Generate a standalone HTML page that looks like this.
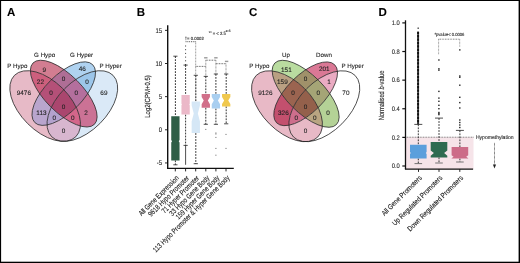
<!DOCTYPE html>
<html><head><meta charset="utf-8"><style>
html,body{margin:0;padding:0;background:#fff;}
body{width:520px;height:263px;overflow:hidden;font-family:"Liberation Sans", sans-serif;}
svg{display:block;text-rendering:geometricPrecision;}
text{stroke:#222;stroke-width:0.1px;}
text.nb{stroke:none;}
</style></head><body>
<svg width="520" height="263" viewBox="0 0 520 263" font-family='"Liberation Sans", sans-serif'><rect width="520" height="263" fill="#fff"/><g opacity="0.999"><defs><mask id="ain0" maskUnits="userSpaceOnUse" x="0" y="0" width="520" height="263"><rect width="520" height="263" fill="black"/><ellipse cx="45.15" cy="106.02" rx="43.40" ry="24.80" transform="rotate(45 45.15 106.02)" fill="white"/></mask><mask id="aout0" maskUnits="userSpaceOnUse" x="0" y="0" width="520" height="263"><rect width="520" height="263" fill="white"/><ellipse cx="45.15" cy="106.02" rx="43.40" ry="24.80" transform="rotate(45 45.15 106.02)" fill="black"/></mask><mask id="ain1" maskUnits="userSpaceOnUse" x="0" y="0" width="520" height="263"><rect width="520" height="263" fill="black"/><ellipse cx="63.75" cy="93.62" rx="43.40" ry="18.60" transform="rotate(45 63.75 93.62)" fill="white"/></mask><mask id="aout1" maskUnits="userSpaceOnUse" x="0" y="0" width="520" height="263"><rect width="520" height="263" fill="white"/><ellipse cx="63.75" cy="93.62" rx="43.40" ry="18.60" transform="rotate(45 63.75 93.62)" fill="black"/></mask><mask id="ain2" maskUnits="userSpaceOnUse" x="0" y="0" width="520" height="263"><rect width="520" height="263" fill="black"/><ellipse cx="63.75" cy="93.62" rx="40.92" ry="18.60" transform="rotate(-45 63.75 93.62)" fill="white"/></mask><mask id="aout2" maskUnits="userSpaceOnUse" x="0" y="0" width="520" height="263"><rect width="520" height="263" fill="white"/><ellipse cx="63.75" cy="93.62" rx="40.92" ry="18.60" transform="rotate(-45 63.75 93.62)" fill="black"/></mask><mask id="ain3" maskUnits="userSpaceOnUse" x="0" y="0" width="520" height="263"><rect width="520" height="263" fill="black"/><ellipse cx="82.35" cy="106.02" rx="43.40" ry="24.80" transform="rotate(-45 82.35 106.02)" fill="white"/></mask><mask id="aout3" maskUnits="userSpaceOnUse" x="0" y="0" width="520" height="263"><rect width="520" height="263" fill="white"/><ellipse cx="82.35" cy="106.02" rx="43.40" ry="24.80" transform="rotate(-45 82.35 106.02)" fill="black"/></mask></defs><g mask="url(#ain0)"><g mask="url(#aout1)"><g mask="url(#aout2)"><g mask="url(#aout3)"><rect x="0" y="0" width="520" height="263" fill="#e7bac7"/></g></g></g></g><g mask="url(#aout0)"><g mask="url(#ain1)"><g mask="url(#aout2)"><g mask="url(#aout3)"><rect x="0" y="0" width="520" height="263" fill="#d27d91"/></g></g></g></g><g mask="url(#aout0)"><g mask="url(#aout1)"><g mask="url(#ain2)"><g mask="url(#aout3)"><rect x="0" y="0" width="520" height="263" fill="#afd2f0"/></g></g></g></g><g mask="url(#aout0)"><g mask="url(#aout1)"><g mask="url(#aout2)"><g mask="url(#ain3)"><rect x="0" y="0" width="520" height="263" fill="#dae9f7"/></g></g></g></g><g mask="url(#ain0)"><g mask="url(#ain1)"><g mask="url(#aout2)"><g mask="url(#aout3)"><rect x="0" y="0" width="520" height="263" fill="#cd5f7d"/></g></g></g></g><g mask="url(#aout0)"><g mask="url(#ain1)"><g mask="url(#ain2)"><g mask="url(#aout3)"><rect x="0" y="0" width="520" height="263" fill="#af6e96"/></g></g></g></g><g mask="url(#aout0)"><g mask="url(#aout1)"><g mask="url(#ain2)"><g mask="url(#ain3)"><rect x="0" y="0" width="520" height="263" fill="#9cc6ea"/></g></g></g></g><g mask="url(#ain0)"><g mask="url(#aout1)"><g mask="url(#ain2)"><g mask="url(#aout3)"><rect x="0" y="0" width="520" height="263" fill="#b9a5cd"/></g></g></g></g><g mask="url(#aout0)"><g mask="url(#ain1)"><g mask="url(#aout2)"><g mask="url(#ain3)"><rect x="0" y="0" width="520" height="263" fill="#cb7295"/></g></g></g></g><g mask="url(#ain0)"><g mask="url(#ain1)"><g mask="url(#ain2)"><g mask="url(#aout3)"><rect x="0" y="0" width="520" height="263" fill="#b45078"/></g></g></g></g><g mask="url(#aout0)"><g mask="url(#ain1)"><g mask="url(#ain2)"><g mask="url(#ain3)"><rect x="0" y="0" width="520" height="263" fill="#b46f9d"/></g></g></g></g><g mask="url(#ain0)"><g mask="url(#ain1)"><g mask="url(#ain2)"><g mask="url(#ain3)"><rect x="0" y="0" width="520" height="263" fill="#aa466e"/></g></g></g></g><g mask="url(#ain0)"><g mask="url(#aout1)"><g mask="url(#ain2)"><g mask="url(#ain3)"><rect x="0" y="0" width="520" height="263" fill="#b3a2cd"/></g></g></g></g><g mask="url(#ain0)"><g mask="url(#ain1)"><g mask="url(#aout2)"><g mask="url(#ain3)"><rect x="0" y="0" width="520" height="263" fill="#d3668a"/></g></g></g></g><g mask="url(#ain0)"><g mask="url(#aout1)"><g mask="url(#aout2)"><g mask="url(#ain3)"><rect x="0" y="0" width="520" height="263" fill="#d8b6cf"/></g></g></g></g><ellipse cx="45.15" cy="106.02" rx="43.40" ry="24.80" transform="rotate(45 45.15 106.02)" fill="none" stroke="#222" stroke-width="0.75"/><ellipse cx="63.75" cy="93.62" rx="43.40" ry="18.60" transform="rotate(45 63.75 93.62)" fill="none" stroke="#222" stroke-width="0.75"/><ellipse cx="63.75" cy="93.62" rx="40.92" ry="18.60" transform="rotate(-45 63.75 93.62)" fill="none" stroke="#222" stroke-width="0.75"/><ellipse cx="82.35" cy="106.02" rx="43.40" ry="24.80" transform="rotate(-45 82.35 106.02)" fill="none" stroke="#222" stroke-width="0.75"/><text x="7.2" y="68" font-size="6.2" text-anchor="start" fill="#222">P Hypo</text><text x="34.1" y="57" font-size="6.2" text-anchor="start" fill="#222">G Hypo</text><text x="70.1" y="57" font-size="6.2" text-anchor="start" fill="#222">G Hyper</text><text x="99.5" y="68" font-size="6.2" text-anchor="start" fill="#222">P Hyper</text><text x="23.85" y="94.67" font-size="6.4" text-anchor="middle" fill="#222">9476</text><text x="44.40" y="71.67" font-size="6.4" text-anchor="middle" fill="#222">9</text><text x="82.30" y="71.47" font-size="6.4" text-anchor="middle" fill="#222">46</text><text x="103.90" y="94.67" font-size="6.4" text-anchor="middle" fill="#222">69</text><text x="40.40" y="83.97" font-size="6.4" text-anchor="middle" fill="#222">22</text><text x="63.60" y="81.17" font-size="6.4" text-anchor="middle" fill="#222">0</text><text x="87.10" y="83.77" font-size="6.4" text-anchor="middle" fill="#222">0</text><text x="51.10" y="94.87" font-size="6.4" text-anchor="middle" fill="#222">0</text><text x="76.20" y="94.87" font-size="6.4" text-anchor="middle" fill="#222">0</text><text x="63.60" y="108.57" font-size="6.4" text-anchor="middle" fill="#222">0</text><text x="41.40" y="114.87" font-size="6.4" text-anchor="middle" fill="#222">113</text><text x="86.10" y="114.77" font-size="6.4" text-anchor="middle" fill="#222">2</text><text x="54.40" y="119.67" font-size="6.4" text-anchor="middle" fill="#222">0</text><text x="72.80" y="119.67" font-size="6.4" text-anchor="middle" fill="#222">0</text><text x="63.60" y="132.77" font-size="6.4" text-anchor="middle" fill="#222">0</text><defs><mask id="cin0" maskUnits="userSpaceOnUse" x="0" y="0" width="520" height="263"><rect width="520" height="263" fill="black"/><ellipse cx="286.99" cy="106.23" rx="43.54" ry="24.88" transform="rotate(45 286.99 106.23)" fill="white"/></mask><mask id="cout0" maskUnits="userSpaceOnUse" x="0" y="0" width="520" height="263"><rect width="520" height="263" fill="white"/><ellipse cx="286.99" cy="106.23" rx="43.54" ry="24.88" transform="rotate(45 286.99 106.23)" fill="black"/></mask><mask id="cin1" maskUnits="userSpaceOnUse" x="0" y="0" width="520" height="263"><rect width="520" height="263" fill="black"/><ellipse cx="305.65" cy="93.79" rx="43.54" ry="18.66" transform="rotate(45 305.65 93.79)" fill="white"/></mask><mask id="cout1" maskUnits="userSpaceOnUse" x="0" y="0" width="520" height="263"><rect width="520" height="263" fill="white"/><ellipse cx="305.65" cy="93.79" rx="43.54" ry="18.66" transform="rotate(45 305.65 93.79)" fill="black"/></mask><mask id="cin2" maskUnits="userSpaceOnUse" x="0" y="0" width="520" height="263"><rect width="520" height="263" fill="black"/><ellipse cx="305.65" cy="93.79" rx="41.05" ry="18.66" transform="rotate(-45 305.65 93.79)" fill="white"/></mask><mask id="cout2" maskUnits="userSpaceOnUse" x="0" y="0" width="520" height="263"><rect width="520" height="263" fill="white"/><ellipse cx="305.65" cy="93.79" rx="41.05" ry="18.66" transform="rotate(-45 305.65 93.79)" fill="black"/></mask><mask id="cin3" maskUnits="userSpaceOnUse" x="0" y="0" width="520" height="263"><rect width="520" height="263" fill="black"/><ellipse cx="324.31" cy="106.23" rx="43.54" ry="24.88" transform="rotate(-45 324.31 106.23)" fill="white"/></mask><mask id="cout3" maskUnits="userSpaceOnUse" x="0" y="0" width="520" height="263"><rect width="520" height="263" fill="white"/><ellipse cx="324.31" cy="106.23" rx="43.54" ry="24.88" transform="rotate(-45 324.31 106.23)" fill="black"/></mask></defs><g mask="url(#cin0)"><g mask="url(#cout1)"><g mask="url(#cout2)"><g mask="url(#cout3)"><rect x="0" y="0" width="520" height="263" fill="#e8b9c6"/></g></g></g></g><g mask="url(#cout0)"><g mask="url(#cin1)"><g mask="url(#cout2)"><g mask="url(#cout3)"><rect x="0" y="0" width="520" height="263" fill="#b9dca0"/></g></g></g></g><g mask="url(#cout0)"><g mask="url(#cout1)"><g mask="url(#cin2)"><g mask="url(#cout3)"><rect x="0" y="0" width="520" height="263" fill="#da7895"/></g></g></g></g><g mask="url(#cout0)"><g mask="url(#cout1)"><g mask="url(#cout2)"><g mask="url(#cin3)"><rect x="0" y="0" width="520" height="263" fill="#ffffff"/></g></g></g></g><g mask="url(#cin0)"><g mask="url(#cin1)"><g mask="url(#cout2)"><g mask="url(#cout3)"><rect x="0" y="0" width="520" height="263" fill="#b9a082"/></g></g></g></g><g mask="url(#cout0)"><g mask="url(#cin1)"><g mask="url(#cin2)"><g mask="url(#cout3)"><rect x="0" y="0" width="520" height="263" fill="#a0916a"/></g></g></g></g><g mask="url(#cout0)"><g mask="url(#cout1)"><g mask="url(#cin2)"><g mask="url(#cin3)"><rect x="0" y="0" width="520" height="263" fill="#eaabc2"/></g></g></g></g><g mask="url(#cin0)"><g mask="url(#cout1)"><g mask="url(#cin2)"><g mask="url(#cout3)"><rect x="0" y="0" width="520" height="263" fill="#c3506e"/></g></g></g></g><g mask="url(#cout0)"><g mask="url(#cin1)"><g mask="url(#cout2)"><g mask="url(#cin3)"><rect x="0" y="0" width="520" height="263" fill="#b4d296"/></g></g></g></g><g mask="url(#cin0)"><g mask="url(#cin1)"><g mask="url(#cin2)"><g mask="url(#cout3)"><rect x="0" y="0" width="520" height="263" fill="#9b6450"/></g></g></g></g><g mask="url(#cout0)"><g mask="url(#cin1)"><g mask="url(#cin2)"><g mask="url(#cin3)"><rect x="0" y="0" width="520" height="263" fill="#a5a576"/></g></g></g></g><g mask="url(#cin0)"><g mask="url(#cin1)"><g mask="url(#cin2)"><g mask="url(#cin3)"><rect x="0" y="0" width="520" height="263" fill="#94604b"/></g></g></g></g><g mask="url(#cin0)"><g mask="url(#cout1)"><g mask="url(#cin2)"><g mask="url(#cin3)"><rect x="0" y="0" width="520" height="263" fill="#cd6e8c"/></g></g></g></g><g mask="url(#cin0)"><g mask="url(#cin1)"><g mask="url(#cout2)"><g mask="url(#cin3)"><rect x="0" y="0" width="520" height="263" fill="#b9a582"/></g></g></g></g><g mask="url(#cin0)"><g mask="url(#cout1)"><g mask="url(#cout2)"><g mask="url(#cin3)"><rect x="0" y="0" width="520" height="263" fill="#e8b9c6"/></g></g></g></g><ellipse cx="286.99" cy="106.23" rx="43.54" ry="24.88" transform="rotate(45 286.99 106.23)" fill="none" stroke="#222" stroke-width="0.75"/><ellipse cx="305.65" cy="93.79" rx="43.54" ry="18.66" transform="rotate(45 305.65 93.79)" fill="none" stroke="#222" stroke-width="0.75"/><ellipse cx="305.65" cy="93.79" rx="41.05" ry="18.66" transform="rotate(-45 305.65 93.79)" fill="none" stroke="#222" stroke-width="0.75"/><ellipse cx="324.31" cy="106.23" rx="43.54" ry="24.88" transform="rotate(-45 324.31 106.23)" fill="none" stroke="#222" stroke-width="0.75"/><text x="249.2" y="68" font-size="6.2" text-anchor="start" fill="#222">P Hypo</text><text x="282" y="57" font-size="6.2" text-anchor="start" fill="#222">Up</text><text x="316" y="57" font-size="6.2" text-anchor="start" fill="#222">Down</text><text x="341.5" y="68" font-size="6.2" text-anchor="start" fill="#222">P Hyper</text><text x="265.35" y="94.67" font-size="6.4" text-anchor="middle" fill="#222">9126</text><text x="286.40" y="71.67" font-size="6.4" text-anchor="middle" fill="#222">151</text><text x="324.30" y="71.47" font-size="6.4" text-anchor="middle" fill="#222">201</text><text x="345.90" y="94.67" font-size="6.4" text-anchor="middle" fill="#222">70</text><text x="282.40" y="83.97" font-size="6.4" text-anchor="middle" fill="#222">159</text><text x="305.60" y="81.17" font-size="6.4" text-anchor="middle" fill="#222">0</text><text x="329.10" y="83.77" font-size="6.4" text-anchor="middle" fill="#222">1</text><text x="293.10" y="94.87" font-size="6.4" text-anchor="middle" fill="#222">0</text><text x="318.20" y="94.87" font-size="6.4" text-anchor="middle" fill="#222">0</text><text x="305.60" y="108.57" font-size="6.4" text-anchor="middle" fill="#222">0</text><text x="283.40" y="114.87" font-size="6.4" text-anchor="middle" fill="#222">326</text><text x="328.10" y="114.77" font-size="6.4" text-anchor="middle" fill="#222">0</text><text x="296.40" y="119.67" font-size="6.4" text-anchor="middle" fill="#222">0</text><text x="314.80" y="119.67" font-size="6.4" text-anchor="middle" fill="#222">0</text><text x="305.60" y="132.77" font-size="6.4" text-anchor="middle" fill="#222">0</text><text x="7.1" y="16.35" font-size="11.5" font-weight="bold" fill="#000" stroke="#000" stroke-width="0.25" class="nb2">A</text><text x="136.8" y="16.35" font-size="11.5" font-weight="bold" fill="#000" stroke="#000" stroke-width="0.25" class="nb2">B</text><text x="248.9" y="16.35" font-size="11.5" font-weight="bold" fill="#000" stroke="#000" stroke-width="0.25" class="nb2">C</text><text x="378.5" y="16.35" font-size="11.5" font-weight="bold" fill="#000" stroke="#000" stroke-width="0.25" class="nb2">D</text><line x1="167.7" y1="25.3" x2="167.7" y2="168.4" stroke="#111" stroke-width="1.4"/><line x1="167.0" y1="168.4" x2="233.8" y2="168.4" stroke="#111" stroke-width="1.4"/><line x1="165" y1="30.35" x2="167.7" y2="30.35" stroke="#111" stroke-width="0.9"/><text x="0" y="0" transform="translate(162.0,32.50) scale(0.86,1)" font-size="6.9" text-anchor="end" fill="#222">15</text><line x1="165" y1="63.50" x2="167.7" y2="63.50" stroke="#111" stroke-width="0.9"/><text x="0" y="0" transform="translate(162.0,65.65) scale(0.86,1)" font-size="6.9" text-anchor="end" fill="#222">10</text><line x1="165" y1="96.65" x2="167.7" y2="96.65" stroke="#111" stroke-width="0.9"/><text x="0" y="0" transform="translate(162.0,98.80) scale(0.86,1)" font-size="6.9" text-anchor="end" fill="#222">5</text><line x1="165" y1="129.80" x2="167.7" y2="129.80" stroke="#111" stroke-width="0.9"/><text x="0" y="0" transform="translate(162.0,131.95) scale(0.86,1)" font-size="6.9" text-anchor="end" fill="#222">0</text><line x1="165" y1="162.95" x2="167.7" y2="162.95" stroke="#111" stroke-width="0.9"/><text x="0" y="0" transform="translate(162.0,165.10) scale(0.86,1)" font-size="6.9" text-anchor="end" fill="#222">-5</text><line x1="175.3" y1="168.4" x2="175.3" y2="171.4" stroke="#111" stroke-width="0.9"/><line x1="185.6" y1="168.4" x2="185.6" y2="171.4" stroke="#111" stroke-width="0.9"/><line x1="195.7" y1="168.4" x2="195.7" y2="171.4" stroke="#111" stroke-width="0.9"/><line x1="205.8" y1="168.4" x2="205.8" y2="171.4" stroke="#111" stroke-width="0.9"/><line x1="215.9" y1="168.4" x2="215.9" y2="171.4" stroke="#111" stroke-width="0.9"/><line x1="226.0" y1="168.4" x2="226.0" y2="171.4" stroke="#111" stroke-width="0.9"/><text transform="translate(149.6,96.5) rotate(-90) scale(0.81,1)" font-size="7.4" text-anchor="middle" fill="#111">Log2(CPM+0.5)</text><text transform="translate(179.3,178.5) rotate(-45) scale(0.81,1)" font-size="7.3" text-anchor="end" fill="#111">All Gene Expression</text><text transform="translate(189.6,178.5) rotate(-45) scale(0.81,1)" font-size="7.3" text-anchor="end" fill="#111">9618 Hypo Promoter</text><text transform="translate(199.7,178.5) rotate(-45) scale(0.81,1)" font-size="7.3" text-anchor="end" fill="#111">71 Hyper Promoter</text><text transform="translate(209.8,178.5) rotate(-45) scale(0.81,1)" font-size="7.3" text-anchor="end" fill="#111">33 Hypo Gene Body</text><text transform="translate(219.9,178.5) rotate(-45) scale(0.81,1)" font-size="7.3" text-anchor="end" fill="#111">159 Hyper Gene Body</text><text transform="translate(230.0,178.5) rotate(-45) scale(0.81,1)" font-size="7.3" text-anchor="end" fill="#111">113 Hypo Promoter &amp; Hyper Gene Body</text><line x1="175.4" y1="56.2" x2="175.4" y2="116.3" stroke="#2a2a2a" stroke-width="0.95" stroke-dasharray="1.8 1.2"/><line x1="175.4" y1="160.4" x2="175.4" y2="164.8" stroke="#2a2a2a" stroke-width="0.95" stroke-dasharray="1.8 1.2"/><line x1="173.3" y1="56.2" x2="177.5" y2="56.2" stroke="#222" stroke-width="0.8"/><line x1="173.3" y1="164.8" x2="177.5" y2="164.8" stroke="#222" stroke-width="0.8"/><path d="M171.25,116.30 L179.55,116.30 L179.55,140.10 L178.75,141.30 L179.55,142.50 L179.55,160.40 L171.25,160.40 L171.25,142.50 L172.05,141.30 L171.25,140.10Z" fill="#2e5e46"/><line x1="185.6" y1="65.1" x2="185.6" y2="95.0" stroke="#2a2a2a" stroke-width="0.95" stroke-dasharray="1.8 1.2"/><line x1="185.6" y1="114.6" x2="185.6" y2="145.4" stroke="#2a2a2a" stroke-width="0.95" stroke-dasharray="1.8 1.2"/><line x1="183.5" y1="65.1" x2="187.7" y2="65.1" stroke="#222" stroke-width="0.8"/><line x1="183.5" y1="145.4" x2="187.7" y2="145.4" stroke="#222" stroke-width="0.8"/><path d="M181.45,95.00 L189.75,95.00 L189.75,103.80 L189.25,104.50 L189.75,105.20 L189.75,114.60 L181.45,114.60 L181.45,105.20 L181.95,104.50 L181.45,103.80Z" fill="#ebb8c8"/><line x1="195.8" y1="75.3" x2="195.8" y2="101.5" stroke="#2a2a2a" stroke-width="0.95" stroke-dasharray="1.8 1.2"/><line x1="195.8" y1="133.1" x2="195.8" y2="163.7" stroke="#2a2a2a" stroke-width="0.95" stroke-dasharray="1.8 1.2"/><line x1="193.70000000000002" y1="75.3" x2="197.9" y2="75.3" stroke="#222" stroke-width="0.8"/><line x1="193.70000000000002" y1="163.7" x2="197.9" y2="163.7" stroke="#222" stroke-width="0.8"/><path d="M191.65,101.50 L199.95,101.50 L199.95,105.60 L197.85,113.60 L199.95,121.60 L199.95,133.10 L191.65,133.10 L191.65,121.60 L193.75,113.60 L191.65,105.60Z" fill="#d5e7f6"/><line x1="205.8" y1="76.4" x2="205.8" y2="94.0" stroke="#2a2a2a" stroke-width="0.95" stroke-dasharray="1.8 1.2"/><line x1="205.8" y1="107.8" x2="205.8" y2="124.3" stroke="#2a2a2a" stroke-width="0.95" stroke-dasharray="1.8 1.2"/><line x1="203.70000000000002" y1="76.4" x2="207.9" y2="76.4" stroke="#222" stroke-width="0.8"/><line x1="203.70000000000002" y1="124.3" x2="207.9" y2="124.3" stroke="#222" stroke-width="0.8"/><path d="M201.65,94.00 L209.95,94.00 L209.95,96.90 L207.85,100.60 L209.95,104.30 L209.95,107.80 L201.65,107.80 L201.65,104.30 L203.75,100.60 L201.65,96.90Z" fill="#d1708a"/><line x1="215.9" y1="74.0" x2="215.9" y2="94.0" stroke="#2a2a2a" stroke-width="0.95" stroke-dasharray="1.8 1.2"/><line x1="215.9" y1="108.5" x2="215.9" y2="124.3" stroke="#2a2a2a" stroke-width="0.95" stroke-dasharray="1.8 1.2"/><line x1="213.8" y1="74.0" x2="218.0" y2="74.0" stroke="#222" stroke-width="0.8"/><line x1="213.8" y1="124.3" x2="218.0" y2="124.3" stroke="#222" stroke-width="0.8"/><path d="M211.75,94.00 L220.05,94.00 L220.05,96.90 L217.95,100.60 L220.05,104.30 L220.05,108.50 L211.75,108.50 L211.75,104.30 L213.85,100.60 L211.75,96.90Z" fill="#a9cff0"/><line x1="226.2" y1="74.0" x2="226.2" y2="94.0" stroke="#2a2a2a" stroke-width="0.95" stroke-dasharray="1.8 1.2"/><line x1="226.2" y1="106.4" x2="226.2" y2="123.8" stroke="#2a2a2a" stroke-width="0.95" stroke-dasharray="1.8 1.2"/><line x1="224.1" y1="74.0" x2="228.29999999999998" y2="74.0" stroke="#222" stroke-width="0.8"/><line x1="224.1" y1="123.8" x2="228.29999999999998" y2="123.8" stroke="#222" stroke-width="0.8"/><path d="M222.05,94.00 L230.35,94.00 L230.35,97.10 L228.25,100.60 L230.35,104.10 L230.35,106.40 L222.05,106.40 L222.05,104.10 L224.15,100.60 L222.05,97.10Z" fill="#f0c84e"/><line x1="185.6" y1="145.4" x2="185.6" y2="164.8" stroke="#222" stroke-width="0.8"/><line x1="185.6" y1="45.5" x2="185.6" y2="65.1" stroke="#333" stroke-width="1.0" stroke-dasharray="1 2.7"/><line x1="185.6" y1="41.7" x2="195.7" y2="41.7" stroke="#333" stroke-width="0.9" stroke-dasharray="0.9 0.9"/><line x1="195.7" y1="41.7" x2="195.7" y2="101.4" stroke="#555" stroke-width="0.8" stroke-dasharray="0.7 0.8"/><line x1="195.7" y1="66.4" x2="205.8" y2="66.4" stroke="#333" stroke-width="0.85" stroke-dasharray="0.8 0.8"/><line x1="205.8" y1="60.2" x2="205.8" y2="76.4" stroke="#444" stroke-width="0.7" stroke-dasharray="0.7 0.7"/><line x1="205.8" y1="60.2" x2="215.9" y2="60.2" stroke="#333" stroke-width="0.85" stroke-dasharray="0.8 0.8"/><line x1="215.9" y1="60.2" x2="215.9" y2="74" stroke="#444" stroke-width="0.7" stroke-dasharray="0.7 0.7"/><line x1="215.9" y1="63.7" x2="226" y2="63.7" stroke="#333" stroke-width="0.85" stroke-dasharray="0.8 0.8"/><line x1="226" y1="63.7" x2="226" y2="74" stroke="#444" stroke-width="0.7" stroke-dasharray="0.7 0.7"/><text x="184.7" y="39.8" font-size="4.6" fill="#222" transform="translate(184.7 0) scale(0.93 1) translate(-184.7 0)">†= 0.0002</text><text x="208.8" y="34.6" font-size="4.6" fill="#222" transform="translate(208.8 0) scale(0.92 1) translate(-208.8 0)"><tspan font-size="3.8" dy="-0.9">**</tspan><tspan dy="0.9"> = &lt; 2.5</tspan><tspan font-size="3.6" dy="-2.3">e-5</tspan></text><rect x="204.10" y="57.10" width="3.4" height="1.4" fill="#9a9a9a"/><rect x="214.20" y="57.10" width="3.4" height="1.4" fill="#9a9a9a"/><rect x="224.90" y="60.70" width="3.4" height="1.4" fill="#9a9a9a"/><rect x="205.3" y="128.9" width="1" height="1" fill="#666"/><rect x="215.4" y="132.5" width="1" height="1" fill="#666"/><rect x="215.4" y="133.5" width="1" height="1" fill="#666"/><rect x="215.4" y="136.9" width="1" height="1" fill="#666"/><rect x="215.4" y="147.9" width="1" height="1" fill="#666"/><rect x="215.4" y="154.7" width="1" height="1" fill="#666"/><rect x="225.5" y="133.9" width="1" height="1" fill="#666"/><rect x="225.5" y="147.9" width="1" height="1" fill="#666"/><rect x="405.5" y="137.2" width="68" height="32" fill="#f6e4e9"/><line x1="405.5" y1="137.2" x2="474" y2="137.2" stroke="#333" stroke-width="0.7" stroke-dasharray="0.8 0.8"/><line x1="405.5" y1="20.3" x2="405.5" y2="169.2" stroke="#111" stroke-width="1.3"/><line x1="404.9" y1="169.2" x2="473.1" y2="169.2" stroke="#111" stroke-width="1.3"/><line x1="402.3" y1="22.90" x2="405.5" y2="22.90" stroke="#111" stroke-width="1.2"/><text x="0" y="0" transform="translate(399.8,25.25) scale(0.88,1)" font-size="6.6" text-anchor="end" fill="#222">1.0</text><line x1="402.3" y1="51.52" x2="405.5" y2="51.52" stroke="#111" stroke-width="1.2"/><text x="0" y="0" transform="translate(399.8,53.87) scale(0.88,1)" font-size="6.6" text-anchor="end" fill="#222">0.8</text><line x1="402.3" y1="80.14" x2="405.5" y2="80.14" stroke="#111" stroke-width="1.2"/><text x="0" y="0" transform="translate(399.8,82.49) scale(0.88,1)" font-size="6.6" text-anchor="end" fill="#222">0.6</text><line x1="402.3" y1="108.76" x2="405.5" y2="108.76" stroke="#111" stroke-width="1.2"/><text x="0" y="0" transform="translate(399.8,111.11) scale(0.88,1)" font-size="6.6" text-anchor="end" fill="#222">0.4</text><line x1="402.3" y1="137.38" x2="405.5" y2="137.38" stroke="#111" stroke-width="1.2"/><text x="0" y="0" transform="translate(399.8,139.73) scale(0.88,1)" font-size="6.6" text-anchor="end" fill="#222">0.2</text><line x1="402.3" y1="166.00" x2="405.5" y2="166.00" stroke="#111" stroke-width="1.2"/><text x="0" y="0" transform="translate(399.8,168.35) scale(0.88,1)" font-size="6.6" text-anchor="end" fill="#222">0.0</text><line x1="418.5" y1="169.2" x2="418.5" y2="171.9" stroke="#111" stroke-width="0.9"/><line x1="439.0" y1="169.2" x2="439.0" y2="171.9" stroke="#111" stroke-width="0.9"/><line x1="459.8" y1="169.2" x2="459.8" y2="171.9" stroke="#111" stroke-width="0.9"/><text transform="translate(384.4,95.5) rotate(-90) scale(0.76,1)" font-size="7.6" text-anchor="middle" fill="#222">Normalised <tspan font-style="italic">b</tspan>-value</text><text transform="translate(422.3,178.4) rotate(-45) scale(0.84,1)" font-size="7.3" text-anchor="end" fill="#111">All Gene Promoters</text><text transform="translate(442.8,178.4) rotate(-45) scale(0.84,1)" font-size="7.3" text-anchor="end" fill="#111">Up Regulated Promoters</text><text transform="translate(463.6,178.4) rotate(-45) scale(0.84,1)" font-size="7.3" text-anchor="end" fill="#111">Down Regulated Promoters</text><line x1="418.3" y1="124.4" x2="418.3" y2="144.8" stroke="#2a2a2a" stroke-width="0.95" stroke-dasharray="1.8 1.2"/><line x1="418.3" y1="158.5" x2="418.3" y2="163.6" stroke="#2a2a2a" stroke-width="0.95" stroke-dasharray="1.8 1.2"/><line x1="414.3" y1="124.4" x2="422.3" y2="124.4" stroke="#222" stroke-width="0.8"/><line x1="414.5" y1="163.6" x2="422.1" y2="163.6" stroke="#666" stroke-width="0.9"/><path d="M410.00,144.80 L426.60,144.80 L426.60,152.10 L425.80,153.10 L426.60,154.10 L426.60,158.50 L410.00,158.50 L410.00,154.10 L410.80,153.10 L410.00,152.10Z" fill="#5b9fdc"/><line x1="439.0" y1="118.1" x2="439.0" y2="142.0" stroke="#2a2a2a" stroke-width="0.95" stroke-dasharray="1.8 1.2"/><line x1="439.0" y1="157.4" x2="439.0" y2="163.0" stroke="#2a2a2a" stroke-width="0.95" stroke-dasharray="1.8 1.2"/><line x1="435.0" y1="118.1" x2="443.0" y2="118.1" stroke="#222" stroke-width="0.8"/><line x1="435.2" y1="163.0" x2="442.8" y2="163.0" stroke="#666" stroke-width="0.9"/><path d="M430.70,142.00 L447.30,142.00 L447.30,150.50 L444.10,153.10 L447.30,155.70 L447.30,157.40 L430.70,157.40 L430.70,155.70 L433.90,153.10 L430.70,150.50Z" fill="#2e6b50"/><line x1="459.9" y1="130.4" x2="459.9" y2="147.0" stroke="#2a2a2a" stroke-width="0.95" stroke-dasharray="1.8 1.2"/><line x1="459.9" y1="158.5" x2="459.9" y2="162.0" stroke="#2a2a2a" stroke-width="0.95" stroke-dasharray="1.8 1.2"/><line x1="455.9" y1="130.4" x2="463.9" y2="130.4" stroke="#222" stroke-width="0.8"/><line x1="456.09999999999997" y1="162.0" x2="463.7" y2="162.0" stroke="#666" stroke-width="0.9"/><path d="M451.60,147.00 L468.20,147.00 L468.20,155.30 L466.20,156.80 L468.20,158.30 L468.20,158.50 L451.60,158.50 L451.60,158.30 L453.60,156.80 L451.60,155.30Z" fill="#cc6c88"/><line x1="418.1" y1="31.7" x2="418.1" y2="124.3" stroke="#4a4a4a" stroke-width="1.9"/><line x1="418.1" y1="31.7" x2="418.1" y2="124.3" stroke="#111" stroke-width="1.9" stroke-dasharray="2.3 1.1"/><rect x="417.5" y="27.5" width="1.4" height="1.4" fill="#444"/><line x1="438.6" y1="39.2" x2="438.6" y2="54.8" stroke="#555" stroke-width="0.7" stroke-dasharray="0.7 0.7"/><line x1="438.6" y1="39.2" x2="459.7" y2="39.2" stroke="#555" stroke-width="0.85" stroke-dasharray="0.8 0.8"/><line x1="459.7" y1="39.2" x2="459.7" y2="46.7" stroke="#555" stroke-width="0.7" stroke-dasharray="0.7 0.7"/><text x="434.4" y="36.4" font-size="4.6" fill="#222" transform="translate(434.4 0) scale(0.9 1) translate(-434.4 0)">*pvalue&lt; 0.0006</text><rect x="438.2" y="59.3" width="1.4" height="1.4" fill="#222"/><rect x="438.2" y="68.1" width="1.4" height="1.4" fill="#222"/><rect x="438.2" y="69.5" width="1.4" height="1.4" fill="#222"/><rect x="438.2" y="90.7" width="1.4" height="1.4" fill="#222"/><rect x="438.2" y="97.39999999999999" width="1.4" height="1.4" fill="#222"/><rect x="438.2" y="100.6" width="1.4" height="1.4" fill="#222"/><rect x="438.2" y="104.6" width="1.4" height="1.4" fill="#222"/><rect x="438.2" y="108.0" width="1.4" height="1.4" fill="#222"/><rect x="438.2" y="111.8" width="1.4" height="1.4" fill="#222"/><rect x="438.2" y="112.8" width="1.4" height="1.4" fill="#222"/><rect x="438.2" y="113.89999999999999" width="1.4" height="1.4" fill="#222"/><rect x="459.1" y="49.199999999999996" width="1.4" height="1.4" fill="#222"/><rect x="459.1" y="75.3" width="1.4" height="1.4" fill="#222"/><rect x="459.1" y="76.6" width="1.4" height="1.4" fill="#222"/><rect x="459.1" y="84.5" width="1.4" height="1.4" fill="#222"/><rect x="459.1" y="96.6" width="1.4" height="1.4" fill="#222"/><rect x="459.1" y="101.89999999999999" width="1.4" height="1.4" fill="#222"/><rect x="459.1" y="107.3" width="1.4" height="1.4" fill="#222"/><rect x="459.1" y="119.3" width="1.4" height="1.4" fill="#222"/><rect x="459.1" y="121.8" width="1.4" height="1.4" fill="#222"/><rect x="459.1" y="124.3" width="1.4" height="1.4" fill="#222"/><rect x="459.1" y="126.8" width="1.4" height="1.4" fill="#222"/><text x="475.9" y="139.1" font-size="5.3" fill="#222" transform="translate(475.9 0) scale(0.955 1) translate(-475.9 0)">Hypomethylation</text><line x1="494.5" y1="142.9" x2="494.5" y2="165" stroke="#222" stroke-width="0.75" stroke-dasharray="0.7 0.6"/><path d="M492.9,164.5 L496.1,164.5 L494.5,168.5 Z" fill="#222"/><rect x="0" y="0" width="1.1" height="263" fill="#000"/><rect x="0" y="0" width="520" height="1" fill="#000"/><rect x="518.6" y="0" width="1.4" height="263" fill="#000"/><rect x="0" y="261.7" width="520" height="1.3" fill="#000"/></g></svg>
</body></html>
